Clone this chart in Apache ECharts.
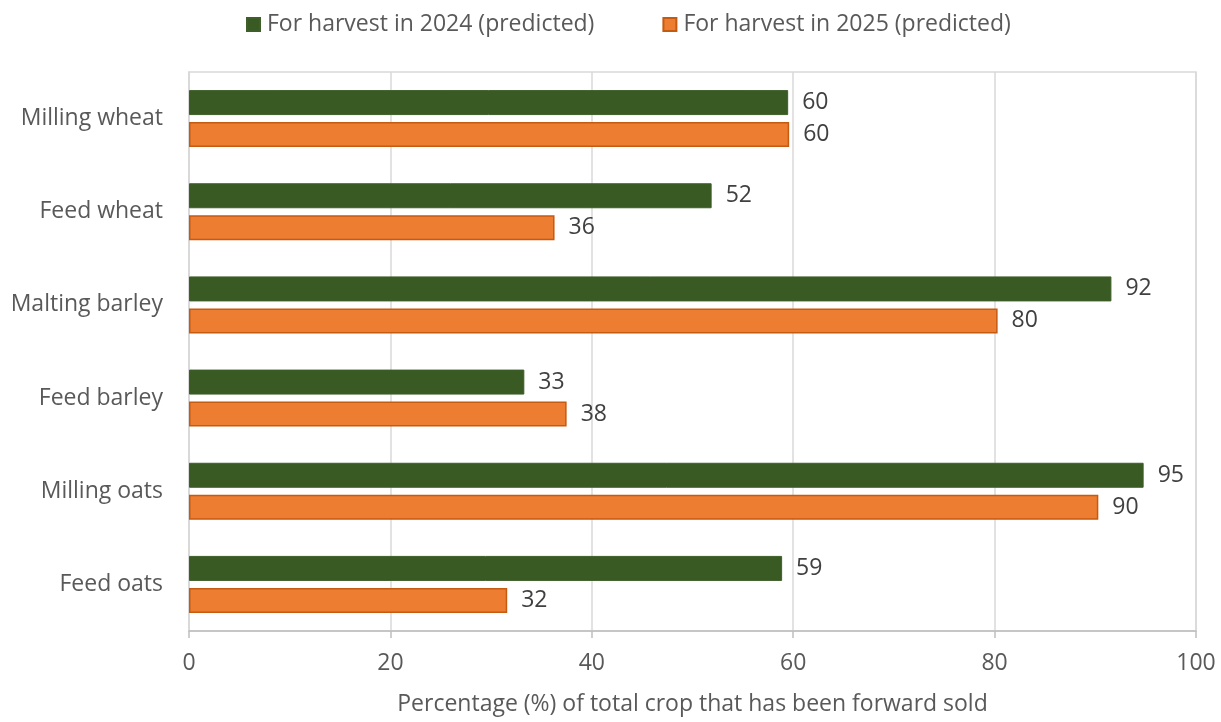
<!DOCTYPE html>
<html><head><meta charset="utf-8">
<script src="https://cdn.jsdelivr.net/npm/echarts@6/dist/echarts.min.js"></script>
<style>html,body{margin:0;padding:0;background:#fff}#c{width:1221px;height:722px}</style>
</head><body><div id="c"></div>
<script>
const categories = ["Milling wheat","Feed wheat","Malting barley","Feed barley","Milling oats","Feed oats"];
const seriesNames = ["For harvest in 2024 (predicted)","For harvest in 2025 (predicted)"];
const values2024 = [59.5, 51.9, 91.6, 33.3, 94.8, 58.9];
const values2025 = [59.6, 36.3, 80.3, 37.5, 90.3, 31.6];
const xTicks = [0,20,40,60,80,100];
const xTitle = "Percentage (%) of total crop that has been forward sold";

const font = "'Open Sans', sans-serif";
const txt = '#595959';
const fs = 23;
const chart = echarts.init(document.getElementById('c'));
const lbl = {show:true, position:'right', distance:14, color:'#404040', fontFamily:font, fontSize:fs,
  formatter: p => Math.round(p.value)};
chart.setOption({
  animation:false,
  legend:{top:8, left:241, itemWidth:13, itemHeight:13, itemGap:68, icon:'rect',
    textStyle:{color:txt, fontFamily:font, fontSize:fs, padding:[0,0,0,2]}, data:seriesNames},
  grid:{left:189, right:25, top:72, bottom:91, show:true, borderColor:'#d9d9d9', borderWidth:1.5,
    containLabel:false, outerBoundsMode:'none'},
  xAxis:{type:'value', min:0, max:100, interval:20,
    name:xTitle, nameLocation:'middle', nameGap:62,
    nameTextStyle:{color:txt, fontFamily:font, fontSize:fs},
    axisLine:{show:true, lineStyle:{color:'#bfbfbf', width:1.5}},
    axisTick:{show:true, length:7, lineStyle:{color:'#bfbfbf', width:1.5}},
    axisLabel:{color:txt, fontFamily:font, fontSize:fs, margin:21, formatter:v=>xTicks.includes(v)?String(v):''},
    splitLine:{show:true, lineStyle:{color:'#d9d9d9', width:1.5}}},
  yAxis:{type:'category', data:categories, inverse:true,
    axisLine:{show:true, lineStyle:{color:'#d9d9d9', width:1.5}},
    axisTick:{show:false},
    axisLabel:{color:txt, fontFamily:font, fontSize:fs, margin:26}},
  series:[
    {name:seriesNames[0], type:'bar', data:values2024, barWidth:25, barGap:'28%', barCategoryGap:'38%',
     itemStyle:{color:'#3a5a24', borderColor:'#3f5f2a', borderWidth:1}, label:lbl},
    {name:seriesNames[1], type:'bar', data:values2025, barWidth:25,
     itemStyle:{color:'#ed7d31', borderColor:'#c55a11', borderWidth:1.5}, label:lbl}
  ]
});
</script></body></html>
